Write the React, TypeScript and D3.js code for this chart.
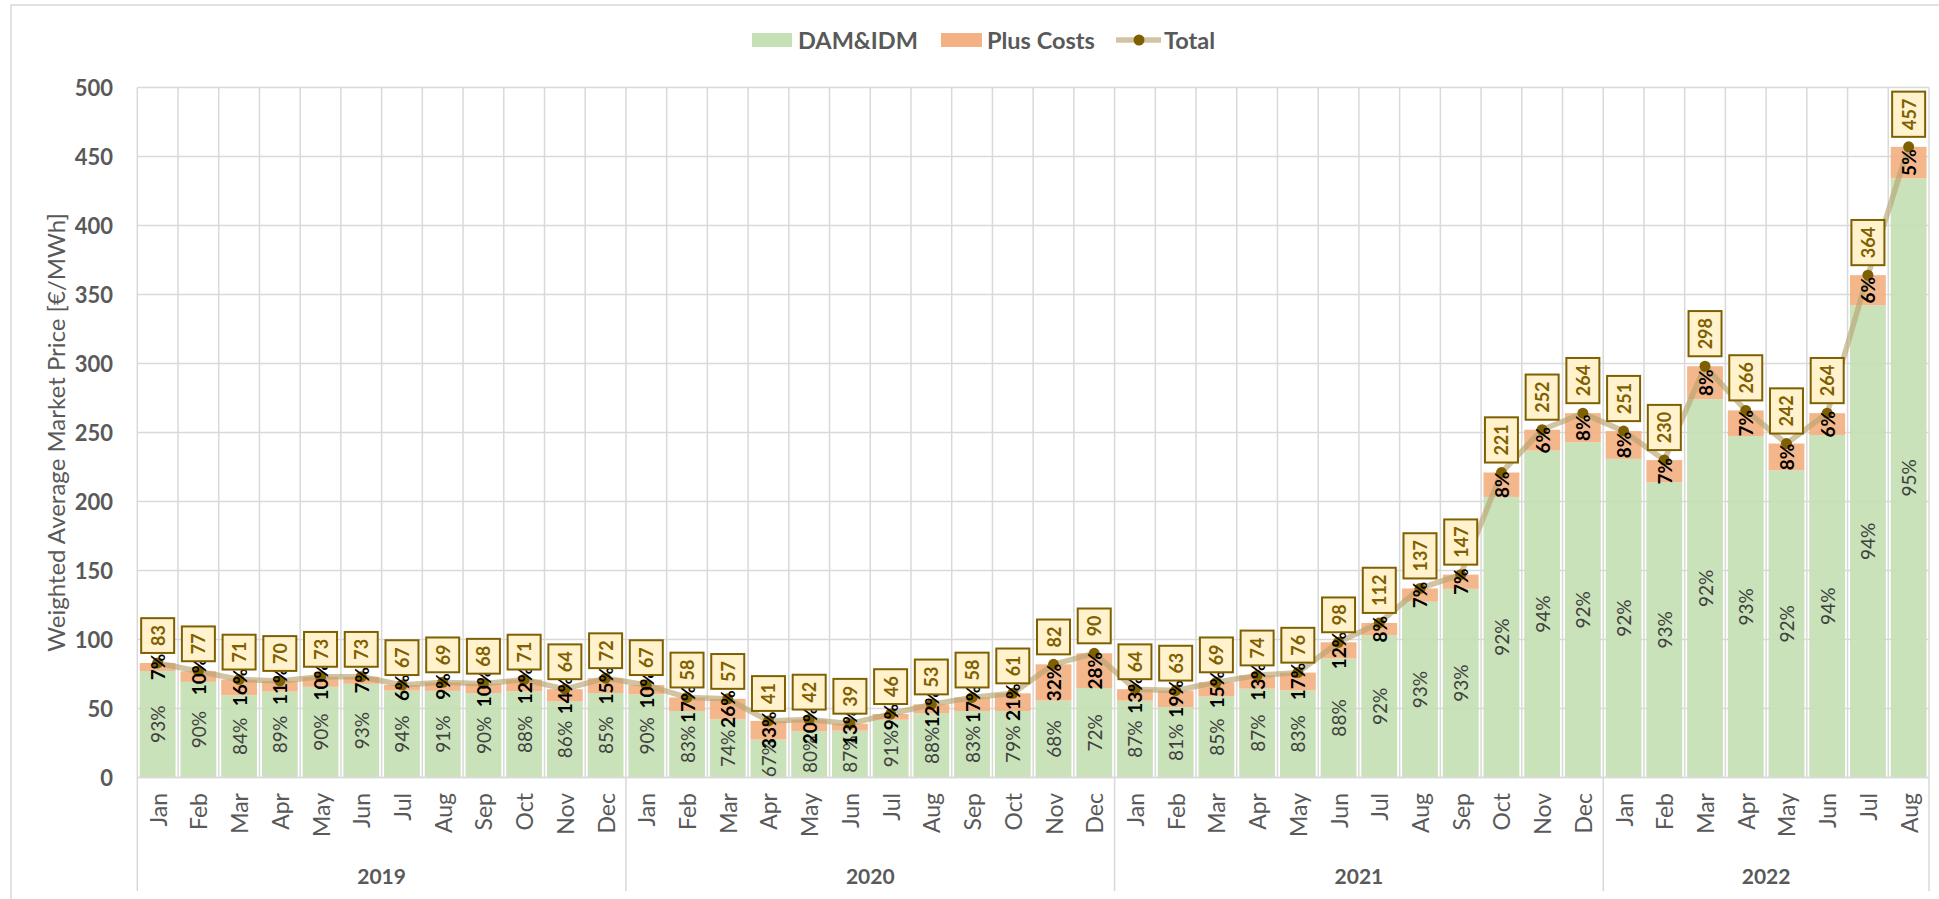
import React from "react";
import * as d3 from "d3";

const years = ["2019", "2020", "2021", "2022"];
const monthsPerYear = [12, 12, 12, 8];
const monthNames = ["Jan", "Feb", "Mar", "Apr", "May", "Jun", "Jul", "Aug", "Sep", "Oct", "Nov", "Dec"];

// Total weighted average market price [€/MWh]
const totals = [
  83, 77, 71, 70, 73, 73, 67, 69, 68, 71, 64, 72,
  67, 58, 57, 41, 42, 39, 46, 53, 58, 61, 82, 90,
  64, 63, 69, 74, 76, 98, 112, 137, 147, 221, 252, 264,
  251, 230, 298, 266, 242, 264, 364, 457,
];
// DAM&IDM share of total [%]
const damShare = [
  93, 90, 84, 89, 90, 93, 94, 91, 90, 88, 86, 85,
  90, 83, 74, 67, 80, 87, 91, 88, 83, 79, 68, 72,
  87, 81, 85, 87, 83, 88, 92, 93, 93, 92, 94, 92,
  92, 93, 92, 93, 92, 94, 94, 95,
];
// Plus costs share of total [%]
const plusShare = [
  7, 10, 16, 11, 10, 7, 6, 9, 10, 12, 14, 15,
  10, 17, 26, 33, 20, 13, 9, 12, 17, 21, 32, 28,
  13, 19, 15, 13, 17, 12, 8, 7, 7, 8, 6, 8,
  8, 7, 8, 7, 8, 6, 6, 5,
];
const yTicks = [0, 50, 100, 150, 200, 250, 300, 350, 400, 450, 500];

const W = 1939;
const H = 899;
const PL = 137.3;
const PR = 1929;
const PT = 87.5;
const PB = 777.5;

const FONT = "Lato, 'Open Sans', sans-serif";
const GREEN = "#C5E0B4";
const ORANGE = "#F4B183";
const GRID = "#D9D9D9";
const AXIS_TXT = "#595959";
const GOLD = "#7F6000";

export default function App() {
  const cats: { key: string; month: string; year: string }[] = [];
  years.forEach((y, yi) => {
    for (let m = 0; m < monthsPerYear[yi]; m++) cats.push({ key: `${y}-${m}`, month: monthNames[m], year: y });
  });
  const data = cats.map((c, i) => {
    const dam = (totals[i] * damShare[i]) / 100;
    return { ...c, total: totals[i], dam, plus: totals[i] - dam, damPct: damShare[i], plusPct: plusShare[i] };
  });

  const x = d3.scaleBand<string>().domain(cats.map((c) => c.key)).range([PL, PR]).padding(0);
  const y = d3.scaleLinear().domain([0, 500]).range([PB, PT]);
  const bw = x.bandwidth();
  const barW = bw * 0.88;
  const cx = (k: string) => (x(k) as number) + bw / 2;

  const line = d3
    .line<(typeof data)[number]>()
    .x((d) => cx(d.key))
    .y((d) => y(d.total));

  const bounds: number[] = [0];
  let acc = 0;
  monthsPerYear.forEach((n) => {
    acc += n;
    bounds.push(acc);
  });
  const bx = (idx: number) => PL + idx * bw;

  const legendY = 40;

  return (
    <svg width={W} height={H} style={{ position: "absolute", left: 0, top: 0, background: "#fff" }} fontFamily={FONT}>
      <rect x={0} y={0} width={W} height={H} fill="#fff" />
      <rect x={11} y={5} width={W + 20} height={H + 20} fill="none" stroke={GRID} strokeWidth={1.5} />

      {/* legend */}
      <g>
        <rect x={752} y={legendY - 7} width={40} height={14} fill={GREEN} />
        <text x={798} y={legendY} dominantBaseline="central" fontSize={23.5} fontWeight={700} fill={AXIS_TXT}>DAM&amp;IDM</text>
        <rect x={941} y={legendY - 7} width={41} height={14} fill={ORANGE} />
        <text x={987} y={legendY} dominantBaseline="central" fontSize={23.5} fontWeight={700} fill={AXIS_TXT}>Plus Costs</text>
        <line x1={1116} x2={1161} y1={legendY} y2={legendY} stroke="#B9A571" strokeOpacity={0.65} strokeWidth={5.5} />
        <circle cx={1139} cy={legendY} r={5.5} fill={GOLD} />
        <text x={1164} y={legendY} dominantBaseline="central" fontSize={23.5} fontWeight={700} fill={AXIS_TXT}>Total</text>
      </g>

      {/* gridlines */}
      {yTicks.map((t) => (
        <line key={`h${t}`} x1={PL} x2={PR} y1={y(t)} y2={y(t)} stroke={GRID} strokeWidth={1.5} />
      ))}
      {d3.range(0, data.length + 1).map((i) => (
        <line key={`v${i}`} x1={bx(i)} x2={bx(i)} y1={PT} y2={PB} stroke={GRID} strokeWidth={1.5} />
      ))}

      {/* bars */}
      {data.map((d) => (
        <g key={d.key} opacity={0.93}>
          <rect x={cx(d.key) - barW / 2} y={y(d.dam)} width={barW} height={PB - y(d.dam)} fill={GREEN} />
          <rect x={cx(d.key) - barW / 2} y={y(d.total)} width={barW} height={y(d.dam) - y(d.total)} fill={ORANGE} />
        </g>
      ))}

      {/* y tick labels */}
      {yTicks.map((t) => (
        <text key={`yt${t}`} x={113} y={y(t)} textAnchor="end" dominantBaseline="central" fontSize={22} fontWeight={700} fill={AXIS_TXT}>
          {t}
        </text>
      ))}
      <text
        transform={`translate(55,${(PT + PB) / 2}) rotate(-90)`}
        textAnchor="middle"
        dominantBaseline="central"
        fontSize={24}
        fill={AXIS_TXT}
      >
        Weighted Average Market Price [€/MWh]
      </text>

      {/* x axis */}
      <line x1={PL} x2={PR} y1={PB} y2={PB} stroke={GRID} strokeWidth={1.5} />
      {bounds.map((b, i) => (
        <line key={`yb${i}`} x1={bx(b)} x2={bx(b)} y1={PB} y2={891} stroke={GRID} strokeWidth={1.5} />
      ))}
      {data.map((d) => (
        <text
          key={`m${d.key}`}
          transform={`translate(${cx(d.key)},793) rotate(-90)`}
          textAnchor="end"
          dominantBaseline="central"
          fontSize={23}
          fill={AXIS_TXT}
        >
          {d.month}
        </text>
      ))}
      {years.map((yr, i) => (
        <text
          key={`y${yr}`}
          x={(bx(bounds[i]) + bx(bounds[i + 1])) / 2}
          y={875}
          textAnchor="middle"
          dominantBaseline="central"
          fontSize={21}
          fontWeight={700}
          fill={AXIS_TXT}
        >
          {yr}
        </text>
      ))}

      {/* total line */}
      <path d={line(data) || ""} fill="none" stroke="#B9A571" strokeOpacity={0.65} strokeWidth={5.5} strokeLinejoin="round" />
      {data.map((d) => (
        <circle key={`c${d.key}`} cx={cx(d.key)} cy={y(d.total)} r={5.5} fill={GOLD} />
      ))}

      {/* segment labels */}
      {data.map((d) => (
        <text
          key={`dl${d.key}`}
          transform={`translate(${cx(d.key)},${(PB + y(d.dam)) / 2}) rotate(-90)`}
          textAnchor="middle"
          dominantBaseline="central"
          fontSize={19}
          fill="#404040"
        >
          {d.damPct}%
        </text>
      ))}
      {data.map((d) => (
        <text
          key={`pl${d.key}`}
          transform={`translate(${cx(d.key)},${(y(d.dam) + y(d.total)) / 2}) rotate(-90)`}
          textAnchor="middle"
          dominantBaseline="central"
          fontSize={19}
          fontWeight={700}
          fill="#000"
        >
          {d.plusPct}%
        </text>
      ))}

      {/* total labels */}
      {data.map((d) => {
        const s = String(d.total);
        const len = s.length * 10.4 + 14;
        const bottom = y(d.total) - 10;
        const c = cx(d.key);
        return (
          <g key={`tl${d.key}`}>
            <rect x={c - 16.5} y={bottom - len} width={33} height={len} fill="#FFF2CC" stroke={GOLD} strokeWidth={2} />
            <text
              transform={`translate(${c},${bottom - len / 2}) rotate(-90)`}
              textAnchor="middle"
              dominantBaseline="central"
              fontSize={18}
              fontWeight={700}
              fill={GOLD}
            >
              {s}
            </text>
          </g>
        );
      })}
    </svg>
  );
}
